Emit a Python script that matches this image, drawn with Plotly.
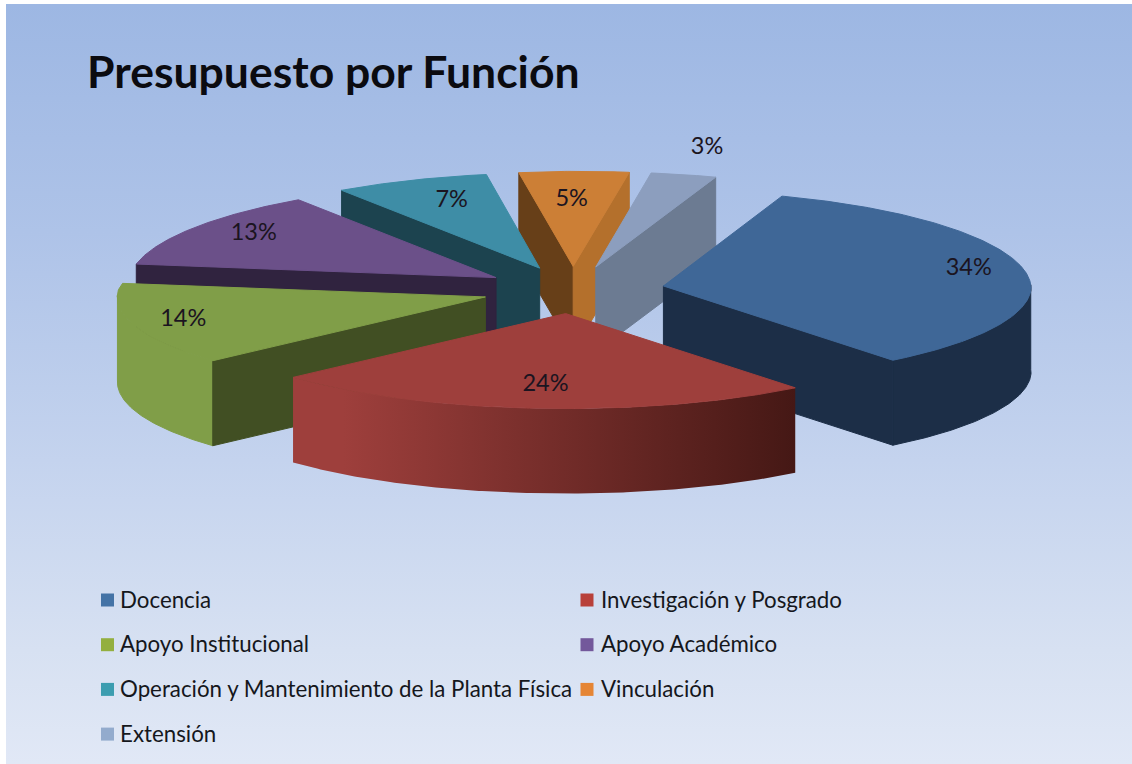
import math
import plotly.graph_objects as go

TITLE = "Presupuesto por Función"
categories = ["Docencia", "Investigación y Posgrado", "Apoyo Institucional", "Apoyo Académico",
              "Operación y Mantenimiento de la Planta Física", "Vinculación", "Extensión"]
values = [34, 24, 14, 13, 7, 5, 3]

# styling, one entry per slice
top_colors = ["#3F6797", "#9E3F3C", "#809E48", "#6B5089", "#3E8DA6", "#CC7F36", "#8C9EBE"]
start_face = ["#1C2E47", "#5A2220", "#414F23", "#30233F", "#1C434F", "#673F18", "#6C7B92"]
end_face = ["#1C2E47", "#5A2220", "#414F23", "#30233F", "#1C434F", "#B4702C", "#6C7B92"]
rim_colors = [("#1C2E47", "#1C2E47"), ("#9E3F3C", "#451815"), ("#809E48", "#809E48"),
              ("#6B5089", "#6B5089"), ("#3E8DA6", "#3E8DA6"), ("#CC7F36", "#CC7F36"), ("#8C9EBE", "#8C9EBE")]
legend_colors = ["#4473A6", "#B8403A", "#93AF3F", "#73589B", "#3C9DB0", "#E58535", "#93ABCD"]
label_angle = [76.4, 184.3, 255, 306, 342, 0, 13.5]
label_radius = [0.854, 0.73, 0.85, 0.81, 0.76, 0.72, 1.31]
draw_order = [5, 4, 6, 3, 2, 0, 1]

FIRST_ANGLE = 19.0
CX, CY = 573.0, 290.0
RX, RY = 368.0, 95.0
EXPLODE = 0.249
DEPTH = 85.0
W, H = 1132, 764
FONT = "Lato"


def project(x, y):
    t = max(0.0, CY - y) / 115.0
    return CX + (x - CX) * (1 - 0.04 * t) + 7 * t, y


def ground(ax, ay, deg, r=1.0):
    a = math.radians(deg)
    return ax + r * RX * math.sin(a), ay - r * RY * math.cos(a)


fig = go.Figure()


def poly(pts, color=None, gradient=None):
    xs = [p[0] for p in pts] + [pts[0][0]]
    ys = [p[1] for p in pts] + [pts[0][1]]
    kw = dict(x=xs, y=ys, mode="lines", fill="toself", hoverinfo="skip", showlegend=False)
    if gradient:
        fig.add_trace(go.Scatter(line=dict(width=0, color="rgba(0,0,0,0)"), fillgradient=gradient, **kw))
    else:
        fig.add_trace(go.Scatter(line=dict(width=1, color=color), fillcolor=color, **kw))


# background gradient
poly([(6, 4), (W, 4), (W, H), (6, H)], gradient=dict(
    type="vertical", start=4, stop=H,
    colorscale=[[0, "#9DB7E3"], [0.3, "#AEC3E8"], [0.6, "#C4D3EE"], [0.85, "#D7E1F2"], [1, "#E1E8F6"]]))

# slice angles from the values
total = sum(values)
starts, ends = [], []
a = FIRST_ANGLE
for v in values:
    starts.append(a)
    a += 360.0 * v / total
    ends.append(a)

apexes = []
for s, e in zip(starts, ends):
    m = math.radians((s + e) / 2)
    apexes.append((CX + EXPLODE * RX * math.sin(m), CY - EXPLODE * RY * math.cos(m)))

for i in draw_order:
    s, e = starts[i], ends[i]
    ax, ay = apexes[i]
    n = max(2, int(e - s) * 2)
    arc = [ground(ax, ay, s + (e - s) * k / n) for k in range(n + 1)]
    P = project

    def wall(g0, g1):
        return [P(*g0), P(*g1), (P(*g1)[0], g1[1] + DEPTH), (P(*g0)[0], g0[1] + DEPTH)]

    # outer wall (front half only)
    front = [g for k, g in enumerate(arc) if math.cos(math.radians(s + (e - s) * k / n)) < 0.02]
    if len(front) > 1:
        pts = [P(*g) for g in front] + [(P(*g)[0], g[1] + DEPTH) for g in reversed(front)]
        c0, c1 = rim_colors[i]
        if c0 == c1:
            poly(pts, c0)
        else:
            poly(pts, gradient=dict(type="horizontal", start=min(p[0] for p in pts), stop=max(p[0] for p in pts),
                                    colorscale=[[0, c0], [0.1, c0], [1, c1]]))
    # cut faces
    if math.sin(math.radians(s)) < 0:
        poly(wall((ax, ay), arc[0]), start_face[i])
    if math.sin(math.radians(e)) > 0:
        poly(wall((ax, ay), arc[-1]), end_face[i])
    # top
    poly([P(ax, ay)] + [P(*g) for g in arc], top_colors[i])

# percent labels
lx, ly, lt = [], [], []
for i, v in enumerate(values):
    gx, gy = ground(*apexes[i], label_angle[i], label_radius[i])
    lx.append(gx)
    ly.append(gy + 2)
    lt.append(f"{v}%")
fig.add_trace(go.Scatter(x=lx, y=ly, mode="text", text=lt, textposition="middle center",
                         textfont=dict(family=FONT, size=23.5, color="#1B1420"),
                         hoverinfo="skip", showlegend=False))

# legend, laid out in two columns
leg_x, leg_y = [], []
for i in range(len(categories)):
    leg_x.append(107.5 if i % 2 == 0 else 587)
    leg_y.append(600 + (i // 2) * 44.7)
fig.add_trace(go.Scatter(x=leg_x, y=leg_y, mode="markers",
                         marker=dict(symbol="square", size=13, color=legend_colors, line=dict(width=0)),
                         hoverinfo="skip", showlegend=False))
fig.add_trace(go.Scatter(x=[v + (12.5 if i % 2 == 0 else 14) for i, v in enumerate(leg_x)],
                         y=[v + 2 for v in leg_y], mode="text", text=categories,
                         textposition="middle right",
                         textfont=dict(family=FONT, size=22.3, color="#15171C"),
                         hoverinfo="skip", showlegend=False))

fig.update_layout(
    width=W, height=H, autosize=False, margin=dict(l=0, r=0, t=0, b=0),
    paper_bgcolor="white", plot_bgcolor="rgba(0,0,0,0)", showlegend=False,
    title=dict(text=TITLE, xref="paper", yref="paper", x=87 / W, y=1 - 72 / H, xanchor="left", yanchor="middle",
               font=dict(family=FONT, size=44.5, color="#0B0B10", weight="bold")),
    xaxis=dict(range=[0, W], visible=False, fixedrange=True),
    yaxis=dict(range=[H, 0], visible=False, fixedrange=True),
)
fig.write_html("out.html", config=dict(displayModeBar=False),
               post_script="document.body.style.margin='0';document.body.style.overflow='hidden';")
